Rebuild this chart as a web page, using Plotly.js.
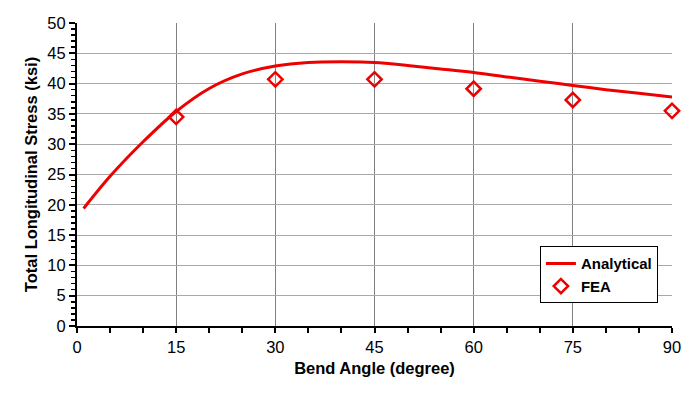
<!DOCTYPE html>
<html>
<head>
<meta charset="utf-8">
<script src="https://cdn.plot.ly/plotly-3.0.1.min.js"></script>
<style>html,body{margin:0;padding:0;background:#fff;}#chart{width:696px;height:403px;}</style>
</head>
<body>
<div id="chart"></div>
<script>
// Analytical curve
const analyticalX = [1, 5, 10, 15, 20, 25, 30, 35, 40, 45, 50, 55, 60, 65, 70, 75, 80, 85, 90];
const analyticalY = [19.4, 24.7, 30.4, 35.4, 39.2, 41.6, 42.9, 43.5, 43.6, 43.5, 43.0, 42.4, 41.85, 41.1, 40.4, 39.7, 39.0, 38.4, 37.8];
// FEA points
const feaX = [15, 30, 45, 60, 75, 90];
const feaY = [34.5, 40.7, 40.7, 39.15, 37.3, 35.5];
const xTicks = [0, 15, 30, 45, 60, 75, 90];
const yTicks = [0, 5, 10, 15, 20, 25, 30, 35, 40, 45, 50];

const font = 'Liberation Sans, Arial, sans-serif';
const traces = [
  {x: analyticalX, y: analyticalY, mode: 'lines', name: 'Analytical',
   line: {color: '#ee0000', width: 3, shape: 'spline', smoothing: 0.8}},
  {x: feaX, y: feaY, mode: 'markers', name: 'FEA', cliponaxis: false,
   marker: {symbol: 'diamond-open', size: 11, color: '#ee0000', line: {width: 2.5, color: '#ee0000'}}}
];
const layout = {
  width: 696, height: 403,
  margin: {l: 77, r: 24, t: 23, b: 77},
  paper_bgcolor: '#fff', plot_bgcolor: '#fff',
  font: {family: font, color: '#000', size: 16.5},
  showlegend: true,
  legend: {x: 0.778, y: 0.263, xanchor: 'left', yanchor: 'top',
    bgcolor: '#fff', bordercolor: '#000', borderwidth: 1,
    font: {family: font, size: 15, color: '#000', weight: 'bold'},
    tracegroupgap: 4},
  xaxis: {range: [0, 90], tickvals: xTicks, ticktext: xTicks.map(String),
    showgrid: true, gridcolor: '#808080', gridwidth: 1,
    showline: true, linecolor: '#000', linewidth: 2,
    ticks: 'outside', ticklen: 5, tickwidth: 2, tickcolor: '#000',
    minor: {dtick: 5, tick0: 0, ticks: 'outside', ticklen: 5, tickwidth: 2, tickcolor: '#000', showgrid: false},
    zeroline: false, tickfont: {size: 16.5, family: font},
    title: {text: '<b>Bend Angle (degree)</b>', font: {size: 16.5, family: font}, standoff: 8}},
  yaxis: {range: [0, 50], tickvals: yTicks, ticktext: yTicks.map(String),
    showgrid: true, gridcolor: '#a8a8a8', gridwidth: 1,
    showline: true, linecolor: '#000', linewidth: 2,
    ticks: 'outside', ticklen: 6, tickwidth: 2, tickcolor: '#000',
    minor: {dtick: 1, tick0: 0, ticks: 'outside', ticklen: 4, tickwidth: 1.5, tickcolor: '#000', showgrid: false},
    zeroline: false, tickfont: {size: 16.5, family: font},
    title: {text: '<b>Total Longitudinal Stress (ksi)</b>', font: {size: 16.5, family: font}, standoff: 6}}
};
Plotly.newPlot('chart', traces, layout, {displayModeBar: false, staticPlot: true});
</script>
</body>
</html>
